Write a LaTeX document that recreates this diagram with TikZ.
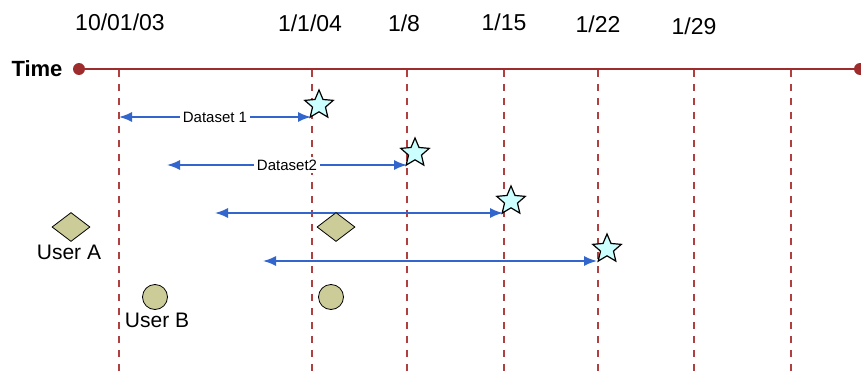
\documentclass[tikz,border=0pt]{standalone}
\usepackage{fontspec}
\setmainfont{Liberation Sans}
\usetikzlibrary{arrows.meta,shapes.geometric}
\definecolor{axisred}{RGB}{158,44,44}
\definecolor{tickred}{RGB}{176,64,64}
\definecolor{spanblue}{RGB}{51,102,204}
\definecolor{userkhaki}{RGB}{204,204,153}
\definecolor{starcyan}{RGB}{204,255,255}

\begin{document}
\begin{tikzpicture}[x=1pt,y=-1pt,line width=.5pt,
  datetick/.style={draw=tickred,line width=1.6pt,dash pattern=on 7pt off 7pt},
  dataspan/.style={draw=spanblue,line width=1.6pt,{Latex[length=13pt,width=10pt]}-{Latex[length=13pt,width=10pt]}},
  spanlabel/.style={fill=white,inner sep=3pt,font=\fontsize{15}{17}\selectfont},
  datelabel/.style={anchor=center,inner sep=1pt,font=\fontsize{23}{26}\selectfont},
  userlabel/.style={anchor=center,inner sep=1pt,font=\fontsize{21}{24}\selectfont},
  enddot/.style={circle,fill=axisred,inner sep=0pt,minimum size=12pt},
  endstar/.style={star,star points=5,star point ratio=2.2,draw=black,line width=1.2pt,fill=starcyan,inner sep=0pt,minimum size=30pt},
  usera/.style={diamond,draw=black,line width=.8pt,fill=userkhaki,inner sep=0pt,minimum width=38pt,minimum height=29pt},
  userb/.style={circle,draw=black,line width=.8pt,fill=userkhaki,inner sep=0pt,minimum size=25pt}]
\path[use as bounding box] (0,0) rectangle (861,377);
% time axis
\node[anchor=center,inner sep=1pt,font=\fontsize{22}{25}\selectfont\bfseries] (time) at (37,69) {Time};
\node[enddot] (tstart) at (79,69) {};
\node[enddot] (tend) at (860,69) {};
\draw[axisred,line width=2pt] (tstart) -- (tend);
% dates
\node[datelabel] (d0) at (120,22) {10/01/03};
\node[datelabel] (d1) at (310,23) {1/1/04};
\node[datelabel] (d2) at (404,23) {1/8};
\node[datelabel] (d3) at (504,22) {1/15};
\node[datelabel] (d4) at (598,24) {1/22};
\node[datelabel] (d5) at (694,26) {1/29};
\draw[datetick] (119,70) -- (119,377);
\draw[datetick] (312,70) -- (312,377);
\draw[datetick] (407,70) -- (407,377);
\draw[datetick] (504,70) -- (504,377);
\draw[datetick] (598,70) -- (598,377);
\draw[datetick] (694,70) -- (694,377);
\draw[datetick] (791,70) -- (791,377);
% data sets
\coordinate (s1a) at (119,117);
\coordinate (s1b) at (311,117);
\coordinate (s2a) at (167,165);
\coordinate (s2b) at (407,165);
\coordinate (s3a) at (215,213);
\coordinate (s3b) at (503,213);
\coordinate (s4a) at (263,261);
\coordinate (s4b) at (597,261);
\draw[dataspan] (s1a) -- node[spanlabel] (lab1) {Dataset 1} (s1b);
\draw[dataspan] (s2a) -- node[spanlabel] (lab2) {Dataset2} (s2b);
\draw[dataspan] (s3a) -- (s3b);
\draw[dataspan] (s4a) -- (s4b);
\node[endstar] (star1) at (319,105) {};
\node[endstar] (star2) at (415,153) {};
\node[endstar] (star3) at (511,201) {};
\node[endstar] (star4) at (607,249) {};
% users
\node[usera] (ua1) at (71,227) {};
\node[userlabel] (ualab) at (69,252) {User A};
\node[usera] (ua2) at (336,227) {};
\node[userb] (ub1) at (155,297) {};
\node[userlabel] (ublab) at (157,320) {User B};
\node[userb] (ub2) at (331,297) {};
\end{tikzpicture}
\end{document}
